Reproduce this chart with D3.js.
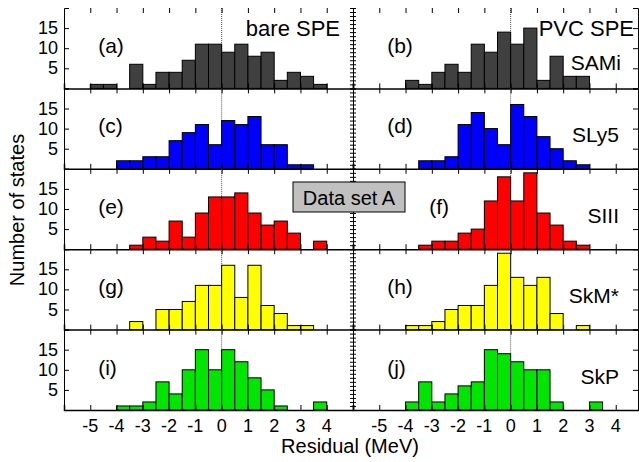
<!DOCTYPE html>
<html><head><meta charset="utf-8">
<script src="https://cdn.jsdelivr.net/npm/d3@7"></script>
<style>body{margin:0;background:#fff}text{font-family:"Liberation Sans",Arial,sans-serif}</style>
</head><body>
<svg id="chart" width="639" height="462"></svg>
<script>
// bins of 0.5 MeV starting at -5
var binStart = -5, binWidth = 0.5;
var xTicks = [-5, -4, -3, -2, -1, 0, 1, 2, 3, 4];
var yTicks = [5, 10, 15];
var panelLabels = ["(a)", "(b)", "(c)", "(d)", "(e)", "(f)", "(g)", "(h)", "(i)", "(j)"];
var forceNames = ["SAMi", "SLy5", "SIII", "SkM*", "SkP"];
var rowColors = ["#404040", "#0000ff", "#ff0000", "#ffff00", "#00e600"];

var bareA = [1,1,0,6,1,4,4,7,11,11,9,11,8,9,2,4,3,1];
var bareC = [0,0,2,2,3,3,7,9,11,6,12,11,13,6,6,1,1,0];
var bareE = [0,0,0,1,3,2,7,3,9,13,13,14,9,6,7,4,0,2];
var bareG = [0,0,0,2,0,5,5,7,11,11,16,8,16,6,4,1,1,0];
var bareI = [0,0,1,1,2,7,4,10,15,10,15,12,8,5,1,0,0,2];
var pvcB = [0,0,2,1,4,6,4,11,9,14,11,15,2,8,3,3,0,0];
var pvcD = [0,0,0,2,2,3,11,14,10,6,16,13,8,5,2,1,0,0];
var pvcF = [0,0,0,1,2,2,4,5,12,18,12,19,9,6,2,1,0,0];
var pvcH = [0,0,1,1,2,5,6,6,11,19,13,11,13,4,0,1,0,0];
var pvcJ = [0,0,2,7,2,4,6,7,15,14,12,10,10,2,0,0,2,0];

var leftSeries = [bareA, bareC, bareE, bareG, bareI];
var rightSeries = [pvcB, pvcD, pvcF, pvcH, pvcJ];

var svg = d3.select('#chart');
var rowTop = 8, rowH = 80.4;
var cols = [{x0: 64, x1: 353}, {x0: 353, x1: 642}];

cols.forEach(function(c, ci) {
	var x = d3.scaleLinear().domain([-6, 5]).range([c.x0, c.x1]);
	var series = ci === 0 ? leftSeries : rightSeries;
	series.forEach(function(vals, ri) {
		var top = rowTop + ri * rowH, bot = top + rowH;
		var y = d3.scaleLinear().domain([0, 20]).range([bot, top]);
		var g = svg.append('g');
		// dotted zero line
		g.append('line').attr('x1', x(0)).attr('x2', x(0)).attr('y1', top).attr('y2', bot)
			.attr('stroke', '#555').attr('stroke-dasharray', '1,1');
		vals.forEach(function(v, i) {
			if (v <= 0) return;
			g.append('rect')
				.attr('x', x(binStart + i * binWidth))
				.attr('width', x(binStart + (i + 1) * binWidth) - x(binStart + i * binWidth))
				.attr('y', y(v)).attr('height', y(0) - y(v))
				.attr('fill', rowColors[ri]).attr('stroke', '#000').attr('stroke-width', 1);
		});
		// axes
		g.append('g').attr('transform', 'translate(0,' + bot + ')')
			.call(d3.axisTop(x).tickValues(xTicks).tickSize(5).tickFormat(''))
			.call(function(a) { a.select('.domain').attr('stroke-width', 1.5); });
		g.append('g').attr('transform', 'translate(0,' + top + ')')
			.call(d3.axisBottom(x).tickValues(xTicks).tickSize(5).tickFormat(''))
			.call(function(a) { a.select('.domain').remove(); });
		if (ci === 0) {
			g.append('g').attr('transform', 'translate(' + c.x0 + ',0)')
				.call(d3.axisRight(y).tickValues(yTicks).tickSize(5).tickFormat(''));
			yTicks.forEach(function(t) {
				g.append('text').attr('x', c.x0 - 6).attr('y', y(t) + 6).attr('text-anchor', 'end')
					.attr('font-size', 18).text(t);
			});
			// shared boundary minor ticks
			g.append('g').attr('transform', 'translate(' + c.x1 + ',0)')
				.call(d3.axisLeft(y).ticks(20).tickSize(3).tickFormat(''))
				.call(function(a) { a.select('.domain').remove(); });
			g.append('g').attr('transform', 'translate(' + c.x1 + ',0)')
				.call(d3.axisRight(y).ticks(20).tickSize(3).tickFormat(''));
		} else {
			g.append('g').attr('transform', 'translate(638,0)')
				.call(d3.axisLeft(y).tickValues(yTicks).tickSize(5).tickFormat(''));
		}
		var lx = (ci === 1 && ri === 2) ? x(-3.1) : x(-4.7);
		g.append('text').attr('x', lx).attr('y', top + 45).attr('font-size', 21)
			.text(panelLabels[ri * 2 + ci]);
		if (ci === 1) {
			var ty = ri === 0 ? top + 62 : top + 54;
			g.append('text').attr('x', ri === 0 ? 621 : 619).attr('y', ty).attr('text-anchor', 'end')
				.attr('font-size', 21).text(forceNames[ri]);
		}
	});
	var bot = rowTop + 5 * rowH;
	xTicks.forEach(function(t) {
		svg.append('text').attr('x', x(t)).attr('y', bot + 22).attr('text-anchor', 'middle')
			.attr('font-size', 18).text(t);
	});
});

svg.append('text').attr('x', 340).attr('y', 36).attr('text-anchor', 'end').attr('font-size', 22).text('bare SPE');
svg.append('text').attr('x', 634).attr('y', 36).attr('text-anchor', 'end').attr('font-size', 22).text('PVC SPE');
svg.append('rect').attr('x', 293).attr('y', 182).attr('width', 112).attr('height', 30)
	.attr('fill', '#c0c0c0').attr('stroke', '#000');
svg.append('text').attr('x', 349).attr('y', 205).attr('text-anchor', 'middle').attr('font-size', 20).text('Data set A');
svg.append('text').attr('x', 350).attr('y', 453).attr('text-anchor', 'middle').attr('font-size', 20).text('Residual (MeV)');
svg.append('text').attr('transform', 'translate(24,210) rotate(-90)').attr('text-anchor', 'middle')
	.attr('font-size', 20).text('Number of states');
svg.selectAll('.domain').attr('stroke', '#000');
</script>
</body></html>
